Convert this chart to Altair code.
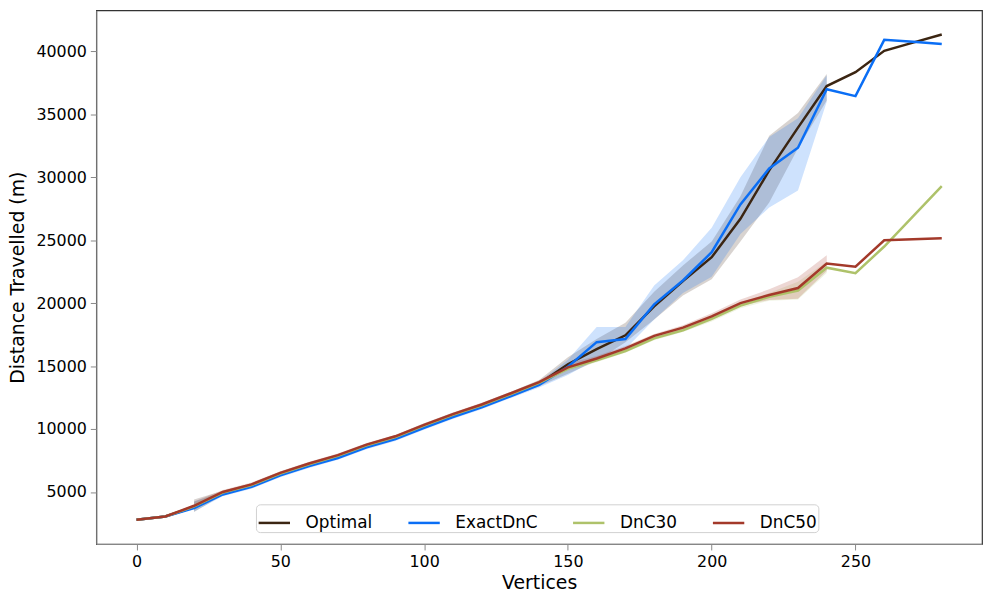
import altair as alt
import pandas as pd

series_names = ["Optimal", "ExactDnC", "DnC30", "DnC50"]
series_colors = ["#3b2512", "#0a6ef5", "#aec26a", "#a3392a"]

vertices = [0, 10, 20, 30, 40, 50, 60, 70, 80, 90, 100, 110, 120, 130, 140,
            150, 160, 170, 180, 190, 200, 210, 220, 230, 240, 250, 260, 270, 280]

optimal = [2790, 3050, 3800, 4900, 5500, 6420, 7150, 7800, 8650, 9300, 10200, 11060, 11830, 12700, 13600,
           15150, 16350, 17450, 19750, 21750, 23650, 26700, 30550, 33950, 37250, 38350, 40050, 40700, 41350]
exact = [2790, 3050, 3720, 4800, 5400, 6320, 7050, 7700, 8540, 9200, 10100, 10950, 11730, 12600, 13500,
         14950, 16900, 17150, 19900, 21800, 24050, 27850, 30700, 32350, 37000, 36450, 40920, 40780, 40600]
dnc30 = [2790, 3050, 3850, 4950, 5550, 6460, 7200, 7860, 8700, 9360, 10270, 11120, 11890, 12760, 13660,
         14800, 15450, 16200, 17200, 17850, 18750, 19800, 20500, 21000, 22820, 22380, 24500, 26900, 29300]
dnc50 = [2790, 3050, 3900, 5000, 5600, 6520, 7260, 7920, 8760, 9420, 10330, 11180, 11950, 12820, 13720,
         14900, 15600, 16400, 17400, 18060, 18950, 20000, 20650, 21200, 23150, 22900, 25000, 25080, 25150]

band_vertices = [20, 30, 40, 50, 60, 70, 80, 90, 100, 110, 120, 130, 140,
                 150, 160, 170, 180, 190, 200, 210, 220, 230, 240]
opt_lo = [3400, 4750, 5350, 6270, 7000, 7650, 8500, 9150, 10030, 10900, 11680, 12530, 13400,
          14400, 15400, 16900, 18700, 20600, 21900, 24900, 28000, 32300, 36100]
opt_hi = [4400, 5100, 5700, 6620, 7350, 8000, 8850, 9500, 10450, 11300, 12050, 12950, 13900,
          15700, 17150, 18450, 20900, 23000, 24900, 28500, 33300, 35100, 38200]
exact_lo = [3450, 4650, 5250, 6170, 6900, 7550, 8390, 9050, 9950, 10800, 11580, 12450, 13300,
            14300, 15550, 16350, 18700, 20800, 22100, 25500, 27600, 28950, 36000]
exact_hi = [4250, 5000, 5600, 6500, 7250, 7900, 8750, 9400, 10300, 11150, 11900, 12800, 13750,
            15500, 18100, 18100, 21400, 23400, 26000, 30000, 33200, 34700, 38100]
dnc30_lo = [3550, 4800, 5400, 6330, 7080, 7740, 8580, 9240, 10150, 11000, 11770, 12640, 13540,
            14600, 15300, 16050, 17050, 17700, 18550, 19600, 20200, 20300, 22400]
dnc30_hi = [4150, 5100, 5700, 6600, 7320, 7980, 8820, 9500, 10400, 11250, 12010, 12890, 13800,
            15000, 15600, 16350, 17350, 18000, 18950, 20050, 20800, 21700, 23300]
dnc50_lo = [3600, 4850, 5450, 6380, 7130, 7790, 8630, 9290, 10200, 11050, 11820, 12690, 13590,
            14700, 15400, 16200, 17250, 17900, 18750, 19800, 20250, 20350, 22550]
dnc50_hi = [4250, 5150, 5750, 6650, 7390, 8050, 8890, 9550, 10460, 11310, 12080, 12950, 13860,
            15200, 15800, 16600, 17550, 18250, 19200, 20300, 21100, 22050, 23800]

x_ticks = [0, 50, 100, 150, 200, 250]
y_ticks = [5000, 10000, 15000, 20000, 25000, 30000, 35000, 40000]

means = [optimal, exact, dnc30, dnc50]
los = [opt_lo, exact_lo, dnc30_lo, dnc50_lo]
his = [opt_hi, exact_hi, dnc30_hi, dnc50_hi]

line_rows = []
band_rows = []
for i, name in enumerate(series_names):
    for v, d in zip(vertices, means[i]):
        line_rows.append({"Vertices": v, "Series": name, "Distance": d, "k": i})
    for v, lo, hi in zip(band_vertices, los[i], his[i]):
        band_rows.append({"Vertices": v, "Series": name, "lo": lo, "hi": hi, "k": i})
lines_df = pd.DataFrame(line_rows)
bands_df = pd.DataFrame(band_rows)

FONT = "DejaVu Sans"
xscale = alt.Scale(domain=[-14, 294], nice=False, zero=False)
yscale = alt.Scale(domain=[863, 43264], nice=False, zero=False)
legend = alt.Legend(title=None, orient="none", legendX=161, legendY=498,
                    direction="horizontal", columns=4,
                    symbolType="stroke", symbolSize=1000, symbolStrokeWidth=2.5,
                    symbolOpacity=1,
                    labelFontSize=17, labelFont=FONT, labelColor="#000",
                    labelOffset=14, columnPadding=30,
                    padding=1, fillColor="white", strokeColor="#d0d0d0",
                    cornerRadius=4)
color = alt.Color("Series:N", sort=series_names,
                  scale=alt.Scale(domain=series_names, range=series_colors),
                  legend=legend)

xaxis = alt.Axis(title="Vertices", values=x_ticks, grid=False, tickSize=6, format="d",
                 labelFontSize=16, titleFontSize=19, titleFontWeight="normal",
                 labelFont=FONT, titleFont=FONT,
                 labelPadding=4, titlePadding=4)
yaxis = alt.Axis(title="Distance Travelled (m)", values=y_ticks, grid=False, tickSize=6, format="d",
                 labelFontSize=16, titleFontSize=19, titleFontWeight="normal",
                 labelFont=FONT, titleFont=FONT,
                 labelPadding=4, titlePadding=8)

bands = alt.Chart(bands_df).mark_area(opacity=0.2, interpolate="linear").encode(
    x=alt.X("Vertices:Q", scale=xscale, axis=xaxis),
    y=alt.Y("lo:Q", scale=yscale, axis=yaxis),
    y2="hi:Q",
    color=color,
    order="k:Q",
)

lines = alt.Chart(lines_df).mark_line(strokeWidth=2.5).encode(
    x=alt.X("Vertices:Q", scale=xscale, axis=xaxis),
    y=alt.Y("Distance:Q", scale=yscale, axis=yaxis),
    color=color,
    order="k:Q",
)

chart = alt.layer(bands, lines).properties(
    width=893, height=538,
    autosize=alt.AutoSizeParams(type="none"),
    padding={"left": 89, "top": 0, "right": 2, "bottom": 47},
    view=alt.ViewBackground(stroke="#333", strokeWidth=1.2),
).configure_view(stroke="#333", strokeWidth=1.2).configure_axis(
    domain=True, domainColor="#444", domainWidth=1,
    tickColor="#444", labelColor="#000", titleColor="#000",
).configure(background="white", font=FONT)

chart.save("out.html", embed_options={"renderer": "svg", "actions": False})
